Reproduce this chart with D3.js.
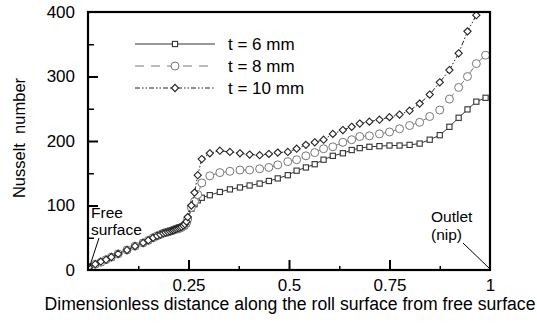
<!DOCTYPE html>
<html>
<head>
<meta charset="utf-8">
<script src="https://cdn.jsdelivr.net/npm/d3@7"></script>
<style>
  body { margin: 0; background: #fff; }
  svg { font-family: Arial, "Liberation Sans", Helvetica, sans-serif; }
  .axis path, .axis line { stroke: #000; }
  .axis text { font-size: 17px; fill: #000; }
</style>
</head>
<body>
<div id="chart"></div>
<script>
// shared abscissa (dimensionless distance along the roll surface)
var s_values = [
  0.002, 0.018, 0.032, 0.045, 0.058, 0.075, 0.097, 0.117, 0.137, 0.15,
  0.162, 0.172, 0.18, 0.187, 0.193, 0.199, 0.204, 0.209, 0.213, 0.217,
  0.221, 0.225, 0.229, 0.233, 0.237, 0.241, 0.245, 0.248,
  0.257, 0.265, 0.273, 0.283, 0.303, 0.328, 0.353, 0.378, 0.402, 0.427,
  0.45, 0.472, 0.497, 0.519, 0.542, 0.564, 0.586, 0.609, 0.634, 0.656,
  0.676, 0.7, 0.725, 0.75, 0.775, 0.8, 0.825, 0.85, 0.875, 0.899,
  0.922, 0.944, 0.966, 0.989
]

var nu_t6 = [
  4, 9, 12, 16, 19, 25, 31, 37, 42, 46,
  50, 53, 55, 57, 58, 59, 60, 61, 62, 62,
  63, 64, 65, 66, 67, 69, 72, 77,
  95, 102, 108, 112, 116, 121, 125, 128, 131, 134,
  138, 142, 147, 154, 159, 164, 171, 177, 181, 186,
  189, 191, 192, 193, 193, 194, 196, 202, 209, 222,
  236, 249, 261, 267
]

var nu_t8 = [
  4, 9, 12, 16, 20, 25, 31, 37, 42, 46,
  50, 53, 55, 57, 58, 59, 60, 61, 62, 63,
  64, 64, 65, 66, 68, 70, 73, 79,
  97, 106, 117, 135, 146, 151, 153, 155, 155, 157,
  159, 163, 168, 171, 177, 182, 188, 191, 198, 202,
  207, 208, 211, 214, 219, 224, 229, 238, 248, 265,
  283, 300, 320, 333
]

var nu_t10 = [
  4, 9, 13, 16, 20, 25, 31, 37, 42, 46,
  50, 53, 55, 57, 58, 59, 60, 61, 62, 63,
  64, 65, 66, 67, 69, 71, 75, 82,
  100, 120, 147, 172, 181, 185, 183, 181, 179, 178,
  180, 182, 183, 188, 194, 198, 202, 211, 217, 222,
  227, 230, 233, 237, 241, 247, 258, 272, 291, 310,
  336, 370, 395, 430
]

var series_labels = ["t = 6 mm", "t = 8 mm", "t = 10 mm"]
var y_ticks_major = [0, 100, 200, 300, 400]
var y_ticks_minor = [50, 150, 250, 350]
var x_ticks_major = [0.25, 0.5, 0.75, 1]
var x_ticks_minor = [0.125, 0.375, 0.625, 0.875]

var width = 537, height = 326
var margin = { left: 88, right: 47, top: 12, bottom: 56 }

var svg = d3.select("#chart").append("svg")
  .attr("width", width)
  .attr("height", height)

var x = d3.scaleLinear().domain([0, 1]).range([margin.left, width - margin.right])
var y = d3.scaleLinear().domain([0, 400]).range([height - margin.bottom, margin.top])

svg.append("clipPath").attr("id", "plotclip")
  .append("rect")
  .attr("x", x(0)).attr("y", y(400))
  .attr("width", x(1) - x(0)).attr("height", y(0) - y(400))

// styles per series
var series = [
  { label: series_labels[0], values: nu_t6, color: "#333", dash: null, marker: "square" },
  { label: series_labels[1], values: nu_t8, color: "#777", dash: "9,7", marker: "circle" },
  { label: series_labels[2], values: nu_t10, color: "#222", dash: "5,2,1.5,2,1.5,2", marker: "diamond" }
]

var line = d3.line()
  .x(function (d) { return x(d[0]) })
  .y(function (d) { return y(d[1]) })

function drawMarker(g, type, cx, cy, color) {
  if (type === "square") {
    g.append("rect")
      .attr("x", cx - 2.6).attr("y", cy - 2.6)
      .attr("width", 5.2).attr("height", 5.2)
      .attr("fill", "#fff").attr("stroke", color).attr("stroke-width", 1.1)
  } else if (type === "circle") {
    g.append("circle")
      .attr("cx", cx).attr("cy", cy).attr("r", 4)
      .attr("fill", "#fff").attr("stroke", color).attr("stroke-width", 1)
  } else {
    g.append("path")
      .attr("d", "M" + cx + "," + (cy - 3.6) + "L" + (cx + 3.6) + "," + cy +
        "L" + cx + "," + (cy + 3.6) + "L" + (cx - 3.6) + "," + cy + "Z")
      .attr("fill", "#fff").attr("stroke", color).attr("stroke-width", 1.1)
  }
}

var plot = svg.append("g").attr("clip-path", "url(#plotclip)")

series.forEach(function (sr) {
  var pts = s_values.map(function (sv, i) { return [sv, sr.values[i]] })
  plot.append("path")
    .datum(pts)
    .attr("d", line)
    .attr("fill", "none")
    .attr("stroke", sr.color)
    .attr("stroke-width", 1)
    .attr("stroke-dasharray", sr.dash)
  var mg = plot.append("g")
  pts.forEach(function (p) {
    drawMarker(mg, sr.marker, x(p[0]), y(p[1]), sr.color)
  })
})

// axes
var yAxis = d3.axisLeft(y).tickValues(y_ticks_major).tickSize(-10).tickPadding(13)
  .tickFormat(d3.format("d"))
var yAxisG = svg.append("g").attr("class", "axis")
  .attr("transform", "translate(" + x(0) + ",0)")
  .call(yAxis)
yAxisG.select(".domain").remove()
yAxisG.selectAll("line").attr("stroke-width", 2)
  .filter(function (d) { return d === 0 || d === 400 }).remove()

var yMinor = svg.append("g").attr("class", "axis")
  .attr("transform", "translate(" + x(0) + ",0)")
  .call(d3.axisLeft(y).tickValues(y_ticks_minor).tickSize(-6).tickFormat(""))
yMinor.select(".domain").remove()
yMinor.selectAll("line").attr("stroke-width", 1.5)

var xAxis = d3.axisBottom(x).tickValues(x_ticks_major).tickSize(-10).tickPadding(9)
  .tickFormat(function (d) { return d === 1 ? "1" : String(d) })
var xAxisG = svg.append("g").attr("class", "axis")
  .attr("transform", "translate(0," + y(0) + ")")
  .call(xAxis)
xAxisG.select(".domain").remove()
xAxisG.selectAll("line").attr("stroke-width", 2)
  .filter(function (d) { return d === 1 }).remove()

var xMinor = svg.append("g").attr("class", "axis")
  .attr("transform", "translate(0," + y(0) + ")")
  .call(d3.axisBottom(x).tickValues(x_ticks_minor).tickSize(-4).tickFormat(""))
xMinor.select(".domain").remove()
xMinor.selectAll("line").attr("stroke-width", 1.5)

// frame
svg.append("rect")
  .attr("x", x(0)).attr("y", y(400))
  .attr("width", x(1) - x(0)).attr("height", y(0) - y(400))
  .attr("fill", "none").attr("stroke", "#000").attr("stroke-width", 2.2)

// legend
var legend = svg.append("g")
series.forEach(function (sr, i) {
  var ly = 44 + i * 22
  legend.append("line")
    .attr("x1", 135).attr("x2", 215).attr("y1", ly).attr("y2", ly)
    .attr("stroke", sr.color).attr("stroke-width", 1)
    .attr("stroke-dasharray", sr.dash)
  drawMarker(legend, sr.marker, 175, ly, sr.color)
  legend.append("text")
    .attr("x", 228).attr("y", ly + 6)
    .attr("font-size", 17)
    .text(sr.label)
})

// axis titles
svg.append("text")
  .attr("transform", "translate(25,138) rotate(-90)")
  .attr("text-anchor", "middle")
  .attr("font-size", 16.5)
  .attr("xml:space", "preserve")
  .text("Nusselt  number")

svg.append("text")
  .attr("x", 290).attr("y", 310)
  .attr("text-anchor", "middle")
  .attr("font-size", 17.6)
  .text("Dimensionless distance along the roll surface from free surface")

// annotations
var notes = svg.append("g").attr("font-size", 15.5)
notes.append("text").attr("x", 91).attr("y", 218).text("Free")
notes.append("text").attr("x", 91).attr("y", 235).text("surface")
notes.append("line")
  .attr("x1", 99).attr("y1", 238).attr("x2", 89.5).attr("y2", 267)
  .attr("stroke", "#000").attr("stroke-width", 1)

notes.append("text").attr("x", 431).attr("y", 222).text("Outlet")
notes.append("text").attr("x", 431).attr("y", 240).text("(nip)")
notes.append("line")
  .attr("x1", 463).attr("y1", 243).attr("x2", 489).attr("y2", 268)
  .attr("stroke", "#000").attr("stroke-width", 1)
</script>
</body>
</html>
